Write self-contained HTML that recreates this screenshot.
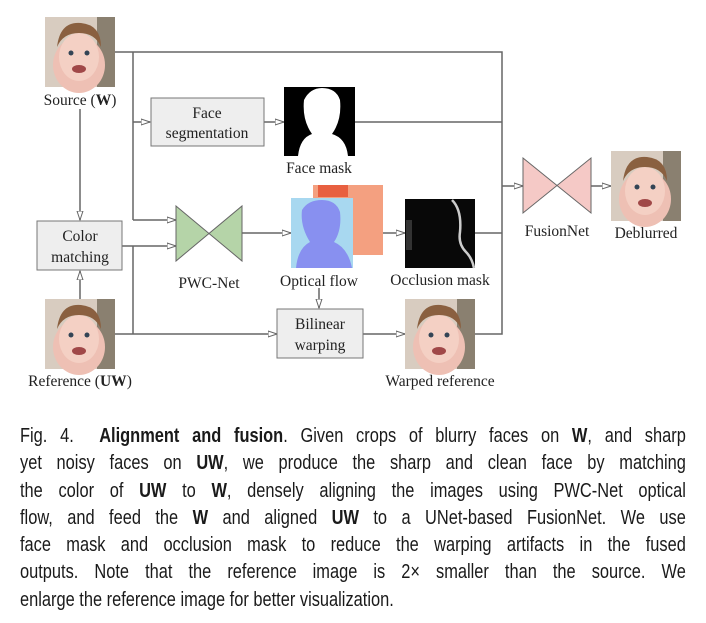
<!DOCTYPE html>
<html><head><meta charset="utf-8"><style>
body{margin:0;background:#fff;width:706px;height:623px;overflow:hidden;position:relative}
svg{position:absolute;left:0;top:0}
.cap{position:absolute;left:20px;width:812px;font-family:"Liberation Sans",sans-serif;font-size:20px;color:#1a1a1a;line-height:27.3px;transform:scaleX(0.82);transform-origin:0 0}
.cap div{height:27.3px;text-align:justify;text-align-last:justify;white-space:normal}
</style></head><body>
<svg width="706" height="410" viewBox="0 0 706 410" font-family="Liberation Serif,serif" font-size="15.5" fill="#222">
<defs>
<marker id="a" markerWidth="10" markerHeight="8" refX="9" refY="4" orient="auto" markerUnits="userSpaceOnUse"><path d="M0,1 L9,4 L0,7 Z" fill="#fff" stroke="#666" stroke-width="1"/></marker>
<g id="face">
<rect width="70" height="70" fill="#d8ccc0"/>
<rect x="52" y="0" width="18" height="70" fill="#8a8070"/>
<ellipse cx="34" cy="48" rx="26" ry="28" fill="#eec0b4"/>
<ellipse cx="34" cy="40" rx="20" ry="24" fill="#f4d0c4"/>
<path d="M12,30 Q15,4 36,6 Q56,8 56,30 Q50,16 34,16 Q18,16 12,30Z" fill="#8a6040"/>
<circle cx="26" cy="36" r="2.5" fill="#345"/><circle cx="42" cy="36" r="2.5" fill="#345"/>
<ellipse cx="34" cy="52" rx="7" ry="4" fill="#a04848"/>
</g>
</defs>
<g stroke="#666" stroke-width="1.5" fill="none">
<polyline points="115,52 502,52 502,334 475,334"/>
<line x1="133" y1="52" x2="133" y2="220"/>
<line x1="133" y1="122" x2="150" y2="122" marker-end="url(#a)"/>
<line x1="133" y1="220" x2="176" y2="220" marker-end="url(#a)"/>
<line x1="264" y1="122" x2="284" y2="122" marker-end="url(#a)"/>
<line x1="355" y1="122" x2="502" y2="122"/>
<line x1="80" y1="109" x2="80" y2="220" marker-end="url(#a)"/>
<line x1="80" y1="299" x2="80" y2="271" marker-end="url(#a)"/>
<line x1="122" y1="246" x2="176" y2="246" marker-end="url(#a)"/>
<line x1="133" y1="246" x2="133" y2="334"/>
<line x1="115" y1="334" x2="277" y2="334" marker-end="url(#a)"/>
<line x1="242" y1="233" x2="291" y2="233" marker-end="url(#a)"/>
<line x1="319" y1="288" x2="319" y2="308" marker-end="url(#a)"/>
<line x1="363" y1="334" x2="405" y2="334" marker-end="url(#a)"/>
<line x1="383" y1="233" x2="405" y2="233" marker-end="url(#a)"/>
<line x1="475" y1="233" x2="502" y2="233"/>
<line x1="502" y1="186" x2="523" y2="186" marker-end="url(#a)"/>
<line x1="591" y1="186" x2="611" y2="186" marker-end="url(#a)"/>
</g>
<use href="#face" x="45" y="17"/>
<use href="#face" x="45" y="299"/>
<use href="#face" x="405" y="299"/>
<use href="#face" x="611" y="151"/>
<rect x="151" y="98" width="113" height="48" fill="#eee" stroke="#777"/>
<rect x="37" y="221" width="85" height="49" fill="#eee" stroke="#777"/>
<rect x="277" y="309" width="86" height="49" fill="#eee" stroke="#777"/>
<rect x="284" y="87" width="71" height="69" fill="#000"/>
<path d="M298,156 Q300,138 312,134 Q302,120 304,100 Q310,88 322,88 Q336,88 340,100 Q342,120 332,134 Q346,138 348,156Z" fill="#fff"/>
<rect x="313" y="185" width="70" height="70" fill="#f4a080"/>
<rect x="318" y="185" width="30" height="12" fill="#e86040"/>
<rect x="291" y="198" width="62" height="70" fill="#a8d8f0"/>
<path d="M296,268 Q298,248 310,242 Q300,226 302,210 Q308,200 322,200 Q336,200 340,212 Q342,230 334,242 Q348,248 352,268Z" fill="#8890f0"/>
<rect x="405" y="199" width="70" height="69" fill="#080808"/>
<path d="M452,200 Q462,210 460,232 Q458,244 466,252 Q472,258 474,268" stroke="#ccc" stroke-width="2.5" fill="none"/>
<rect x="406" y="220" width="6" height="30" fill="#333"/>
<path d="M176,206 L242,261 L242,206 L176,261Z" fill="#b5d4a8" stroke="#666"/>
<path d="M523,158 L591,213 L591,158 L523,213Z" fill="#f5c9c6" stroke="#666"/>
<g text-anchor="middle">
<text x="80" y="105">Source (<tspan font-weight="bold">W</tspan>)</text>
<text x="207" y="118">Face</text><text x="207" y="138">segmentation</text>
<text x="319" y="173">Face mask</text>
<text x="80" y="241">Color</text><text x="80" y="262">matching</text>
<text x="209" y="288">PWC-Net</text>
<text x="319" y="286">Optical flow</text>
<text x="440" y="285">Occlusion mask</text>
<text x="320" y="329">Bilinear</text><text x="320" y="350">warping</text>
<text x="80" y="386">Reference (<tspan font-weight="bold">UW</tspan>)</text>
<text x="440" y="386">Warped reference</text>
<text x="557" y="236">FusionNet</text>
<text x="646" y="238">Deblurred</text>
</g>
</svg>
<div class="cap" style="top:423px">
<div>Fig. 4.&nbsp; <b>Alignment and fusion</b>. Given crops of blurry faces on <b>W</b>, and sharp</div>
<div>yet noisy faces on <b>UW</b>, we produce the sharp and clean face by matching</div>
<div>the color of <b>UW</b> to <b>W</b>, densely aligning the images using PWC-Net optical</div>
<div>flow, and feed the <b>W</b> and aligned <b>UW</b> to a UNet-based FusionNet. We use</div>
<div>face mask and occlusion mask to reduce the warping artifacts in the fused</div>
<div>outputs. Note that the reference image is 2× smaller than the source. We</div>
<div style="text-align-last:left">enlarge the reference image for better visualization.</div>
</div>
</body></html>
